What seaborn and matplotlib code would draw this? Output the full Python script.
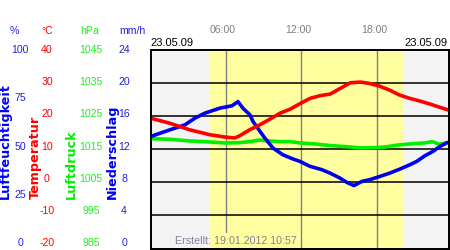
import numpy as np
import pandas as pd
import matplotlib
matplotlib.use("Agg")
import matplotlib.pyplot as plt
import seaborn as sns

sns.set_style("white")
plt.rcParams['font.family'] = ['Liberation Sans', 'DejaVu Sans']

# ---------------- data ----------------
temp_hours = [0, 1.5, 3.1, 4.7, 5.9, 6.7, 7.1, 7.9, 8.7, 9.5, 10.3, 11.1, 11.9, 12.7,
              13.5, 14.3, 15.1, 15.9, 16.7, 17.4, 18.2, 19.0, 19.8, 20.6, 21.4, 22.2, 23.0, 23.65]
temp_vals = [19.4, 17.9, 15.9, 14.4, 13.7, 13.4, 14.1, 15.9, 17.4, 19.1, 20.9, 22.1, 23.8, 25.4,
             26.2, 26.7, 28.4, 30.1, 30.3, 29.9, 29.1, 27.9, 26.4, 25.4, 24.6, 23.7, 22.7, 21.9]

hum_hours = [0, 1.55, 2.74, 3.54, 4.33, 5.52, 6.48, 6.96, 7.35, 7.91, 8.15, 8.71, 9.1, 9.74,
             10.53, 11.33, 11.88, 12.68, 13.63, 14.27, 15.06, 15.62, 16.18, 16.81, 17.45, 18.24,
             19.04, 19.83, 20.63, 21.18, 21.82, 22.46, 23.01, 23.6]
hum_vals = [56.4, 59.8, 62.3, 65.7, 68.2, 70.7, 71.9, 74.0, 70.7, 67.3, 64.0, 59.0, 55.6, 50.6,
            47.2, 45.1, 43.9, 41.4, 39.7, 38.0, 35.5, 33.3, 31.7, 33.8, 34.7, 36.3,
            38.0, 40.0, 42.2, 43.9, 46.7, 48.9, 51.4, 53.4]

press_hours = [0, 1.6, 3.1, 4.7, 5.9, 7.1, 7.9, 8.7, 9.5, 10.3, 11.1, 11.9, 13.1, 14.3, 15.5,
               16.7, 17.9, 18.7, 19.5, 20.6, 21.8, 22.4, 23.0, 23.65]
press_vals = [1018.2, 1018.0, 1017.5, 1017.2, 1016.9, 1017.0, 1017.3, 1017.8, 1017.5, 1017.3,
              1017.3, 1016.9, 1016.6, 1016.1, 1015.8, 1015.4, 1015.5, 1015.7, 1016.2, 1016.6,
              1016.9, 1017.3, 1016.5, 1017.0]

hum_ticks = [0, 25, 50, 75, 100]
temp_ticks = [-20, -10, 0, 10, 20, 30, 40]
press_ticks = [985, 995, 1005, 1015, 1025, 1035, 1045]
precip_ticks = [0, 4, 8, 12, 16, 20, 24]
time_ticks = [6, 12, 18]
time_labels = ["06:00", "12:00", "18:00"]
date_label = "23.05.09"
created_label = "Erstellt: 19.01.2012 10:57"
daylight = (4.65, 20.07)

# ---------------- figure ----------------
W, H = 450, 250
fig = plt.figure(figsize=(4.5, 2.5), dpi=100)
fig.patch.set_facecolor("white")

L, R, T, B = 150.5, 448.5, 50.0, 248.5
ax = fig.add_axes([L / W, 1 - B / H, (R - L) / W, (B - T) / H])
ax.set_xlim(0, 23.7)
ax.set_ylim(985, 1045)
ax.set_facecolor("#f3f3f3")
ax.axvspan(daylight[0], daylight[1], color="#ffffa0", zorder=0, lw=0)

for t in time_ticks:
    ymin = 0.083 if t == 6 else 0.0
    ax.axvline(t, ymin=ymin, ymax=1, color="#808080", lw=1.0, zorder=1)
for p in press_ticks:
    ax.axhline(p, color="black", lw=1.1, zorder=1)

ax_h = ax.twinx()
ax_h.set_ylim(0, 100)
ax_t = ax.twinx()
ax_t.set_ylim(-20, 40)

df_p = pd.DataFrame({"h": press_hours, "v": press_vals})
df_h = pd.DataFrame({"h": hum_hours, "v": hum_vals})
df_t = pd.DataFrame({"h": temp_hours, "v": temp_vals})
sns.lineplot(data=df_p, x="h", y="v", ax=ax, color="#00f000", lw=2.6, zorder=3)
sns.lineplot(data=df_h, x="h", y="v", ax=ax_h, color="#0000f0", lw=2.6)
sns.lineplot(data=df_t, x="h", y="v", ax=ax_t, color="#ff0000", lw=2.6)

for a in (ax, ax_h, ax_t):
    a.set_xlim(0, 23.7)
    a.set_xticks([])
    a.set_yticks([])
    a.set_xlabel("")
    a.set_ylabel("")
    for s in a.spines.values():
        s.set_color("black")
        s.set_linewidth(1.1)


def ftext(x, y, s, **kw):
    fig.text(x / W, 1 - y / H, s, **kw)


def ypix(v, lo, hi):
    return 50 + (hi - v) / (hi - lo) * 193


fs = 7.6
for v in hum_ticks:
    ftext(20, ypix(v, 0, 100), str(v), color="#2020ee", fontsize=fs, ha="center", va="center")
for v in temp_ticks:
    ftext(47, ypix(v, -20, 40), str(v), color="#ff0000", fontsize=fs, ha="center", va="center")
for v in press_ticks:
    ftext(91, ypix(v, 985, 1045), str(v), color="#22ee22", fontsize=fs, ha="center", va="center")
for v in precip_ticks:
    ftext(124, ypix(v, 0, 24), str(v), color="#2020dd", fontsize=fs, ha="center", va="center")

ftext(14, 31, "%", color="#2020ee", fontsize=fs, ha="center", va="center")
ftext(47, 31, "°C", color="#ff0000", fontsize=fs, ha="center", va="center")
ftext(90, 31, "hPa", color="#22ee22", fontsize=fs, ha="center", va="center")
ftext(132, 31, "mm/h", color="#2020dd", fontsize=fs, ha="center", va="center")

rk = dict(rotation=90, ha="center", va="bottom", fontsize=9.2, fontweight="bold",
          family="DejaVu Sans")
ftext(5.5, 199, "Luftfeuchtigkeit", color="#0000ff", **rk)
ftext(35.5, 199, "Temperatur", color="#ff0000", **rk)
ftext(71, 199, "Luftdruck", color="#00ee00", **rk)
ftext(112, 199, "Niederschlag", color="#0000ee", **rk)

for t, lab in zip(time_ticks, time_labels):
    xp = L + t / 23.7 * (R - L) - 3
    ftext(xp, 30, lab, color="#808080", fontsize=fs, ha="center", va="center")

ftext(150, 43, date_label, color="black", fontsize=8, ha="left", va="center")
ftext(447, 43, date_label, color="black", fontsize=8, ha="right", va="center")

ftext(175, 241, created_label, color="#80809a", fontsize=7.7, ha="left", va="center")

fig.savefig("out.png", dpi=100)
